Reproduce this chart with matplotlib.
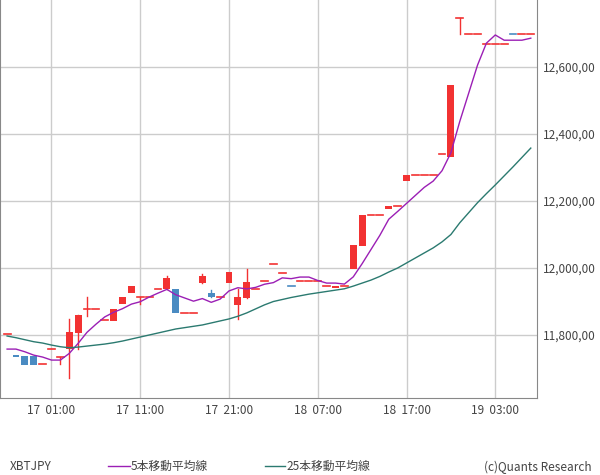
import matplotlib
matplotlib.use("Agg")
import matplotlib.pyplot as plt
import numpy as np
import pandas as pd

opens = [11803,11740,11737,11737,11713,11758,11735,11758,11806,11878,11878,11845,11842,11893,11925,11914,11914,11937,11937,11937,
         11866,11866,11955,11925,11914,11955,11890,11910,11937,11961,12012,11985,11946,11961,11961,11961,11946,11940,11946,11997,
         12066,12158,12158,12176,12185,12260,12278,12278,12278,12340,12331,12746,12698,12698,12668,12668,12668,12698,12698,12698]
closes = [11803,11735,11710,11710,11713,11758,11735,11809,11860,11878,11878,11845,11878,11914,11946,11914,11914,11937,11970,11866,
          11866,11866,11976,11914,11914,11988,11914,11958,11937,11961,12012,11985,11946,11961,11961,11961,11946,11946,11946,12069,
          12158,12158,12158,12185,12185,12278,12278,12278,12278,12340,12546,12746,12698,12698,12668,12668,12668,12698,12698,12698]
highs = [None]*60
lows = [None]*60
highs_set = {7: 11848, 9: 11914, 18: 11976, 22: 11982, 23: 11934, 26: 11937, 27: 11997}
lows_set = {6: 11713, 7: 11672, 8: 11758, 9: 11857, 15: 11893, 26: 11848, 51: 12698}
down_doji = {32, 57}
ma5_head = [11758, 11758, 11750, 11740]
ma25 = [11797,11792,11786,11780,11776,11770,11765,11762,11764,11767,11770,11773,11777,11782,11788,11794,11800,11806,11812,11818,
        11822,11826,11830,11836,11842,11848,11856,11866,11878,11890,11900,11906,11912,11917,11922,11926,11930,11934,11938,11946,
        11955,11964,11975,11988,12000,12015,12030,12045,12060,12078,12100,12135,12165,12195,12222,12248,12275,12302,12330,12358]
tick_idx = [5, 15, 25, 35, 45, 55]
tick_labels = ["17  01:00", "17  11:00", "17  21:00", "18  07:00", "18  17:00", "19  03:00"]
yticks = [11800, 12000, 12200, 12400, 12600]

RED = "#f23232"; BLUE = "#4a8bc2"; PURPLE = "#9b1fb5"; GREEN = "#2b7a70"
plt.rcParams['font.family'] = ['Noto Sans CJK JP', 'DejaVu Sans']

fig = plt.figure(figsize=(6, 4.75), dpi=100)
ax = fig.add_axes([0.0, 1 - 398/475, 537/600, 398/475])
n = len(opens)
x = np.arange(n)
w = 0.78
for i in range(n):
    o, c = opens[i], closes[i]
    hi = highs_set.get(i, max(o, c)); lo = lows_set.get(i, min(o, c))
    col = BLUE if (c < o or i in down_doji) else RED
    if hi > max(o, c) or lo < min(o, c):
        ax.plot([i, i], [lo, hi], color=col, lw=1, zorder=2)
    if o == c:
        ax.plot([i - w/2, i + w/2], [o, c], color=col, lw=1.2, zorder=3)
    else:
        ax.bar(i, abs(c - o), bottom=min(o, c), width=w, color=col, zorder=3)

ma5 = pd.Series(closes).rolling(5).mean().to_numpy()
ma5[:4] = ma5_head
ax.plot(x, ma5, color=PURPLE, lw=1, zorder=4)
ax.plot(x, ma25, color=GREEN, lw=1, zorder=4)

ax.set_xlim(-0.8, 59.7)
ax.set_ylim(11612, 12800)
ax.set_xticks(tick_idx)
ax.set_xticklabels(tick_labels, fontsize=8.5, color="#444444")
ax.set_yticks(yticks)
ax.set_yticklabels([f"{v:,},00" for v in yticks], fontsize=8.5, color="#444444")
ax.yaxis.tick_right()
ax.tick_params(length=0, pad=4)
ax.grid(True, color="#cccccc", lw=1)
ax.set_axisbelow(True)
for s in ["left", "right", "bottom"]:
    ax.spines[s].set_color("#888888")
ax.spines["top"].set_visible(False)

fig.text(10/600, 1 - 466/475, "XBTJPY", fontsize=8.5, color="#444444", va="center")
fig.add_artist(plt.Line2D([108/600, 130/600], [1 - 466/475]*2, color=PURPLE, lw=1))
fig.text(131/600, 1 - 466/475, "5本移動平均線", fontsize=8.5, color="#444444", va="center")
fig.add_artist(plt.Line2D([265/600, 285/600], [1 - 466/475]*2, color=GREEN, lw=1))
fig.text(286/600, 1 - 466/475, "25本移動平均線", fontsize=8.5, color="#444444", va="center")
fig.text(592/600, 1 - 467/475, "(c)Quants Research", fontsize=8.5, color="#444444", va="center", ha="right")

fig.savefig("out.png", dpi=100)
